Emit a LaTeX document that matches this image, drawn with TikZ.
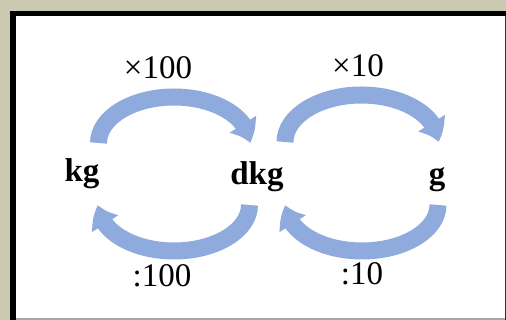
\documentclass[tikz,border=0pt]{standalone}
\usepackage{fontspec}
\setmainfont{Liberation Serif}
\usetikzlibrary{arrows.meta,bending}
\definecolor{convblue}{RGB}{143,170,220}
\definecolor{framebg}{RGB}{203,201,178}
\tikzset{
  unit/.style={anchor=base, inner sep=0pt, font=\fontsize{33}{40}\selectfont\bfseries},
  factor/.style={anchor=base, inner sep=0pt, font=\fontsize{33}{40}\selectfont},
  conv/.style={convblue, line width=17pt, -{Triangle[bend,length=20pt,width=30pt]}}
}
\begin{document}
\begin{tikzpicture}[x=1pt,y=1pt]
    \useasboundingbox (0,0) rectangle (506,320);
    % panel
    \fill[framebg] (0,0) rectangle (506,320);
    \fill[white] (10,0) rectangle (506,309);
    \draw[black, line width=5.5pt] (12.75,0) -- (12.75,306.25) -- (506,306.25);
    \draw[black!80, line width=1pt] (505,0) -- (505,303.5);
    \draw[gray!70, line width=1.5pt] (15.5,0.75) -- (504.5,0.75);

    % units
    \node[unit] (kg) at (82,138) {kg};
    \node[unit] (dkg) at (257,135) {dkg};
    \node[unit] (g) at (437,135) {g};

    % factors
    \node[factor] (m100) at (158,241) {×100};
    \node[factor] (m10) at (358,243) {×10};
    \node[factor] (d100) at (162,33) {:100};
    \node[factor] (d10) at (362,35) {:10};

    % conversion arcs
    \coordinate (kgup) at (98.5,177);
    \coordinate (dkgdown) at (249.5,115);
    \coordinate (dkgup) at (285,178);
    \coordinate (gdown) at (438,115);
    \draw[conv] (kgup) arc[start angle=180, end angle=0, x radius=75.5, y radius=46];
    \draw[conv] (dkgdown) arc[start angle=0, end angle=-180, x radius=75.5, y radius=46];
    \draw[conv] (dkgup) arc[start angle=180, end angle=0, x radius=76.5, y radius=47];
    \draw[conv] (gdown) arc[start angle=0, end angle=-180, x radius=76, y radius=46];
\end{tikzpicture}
\end{document}
